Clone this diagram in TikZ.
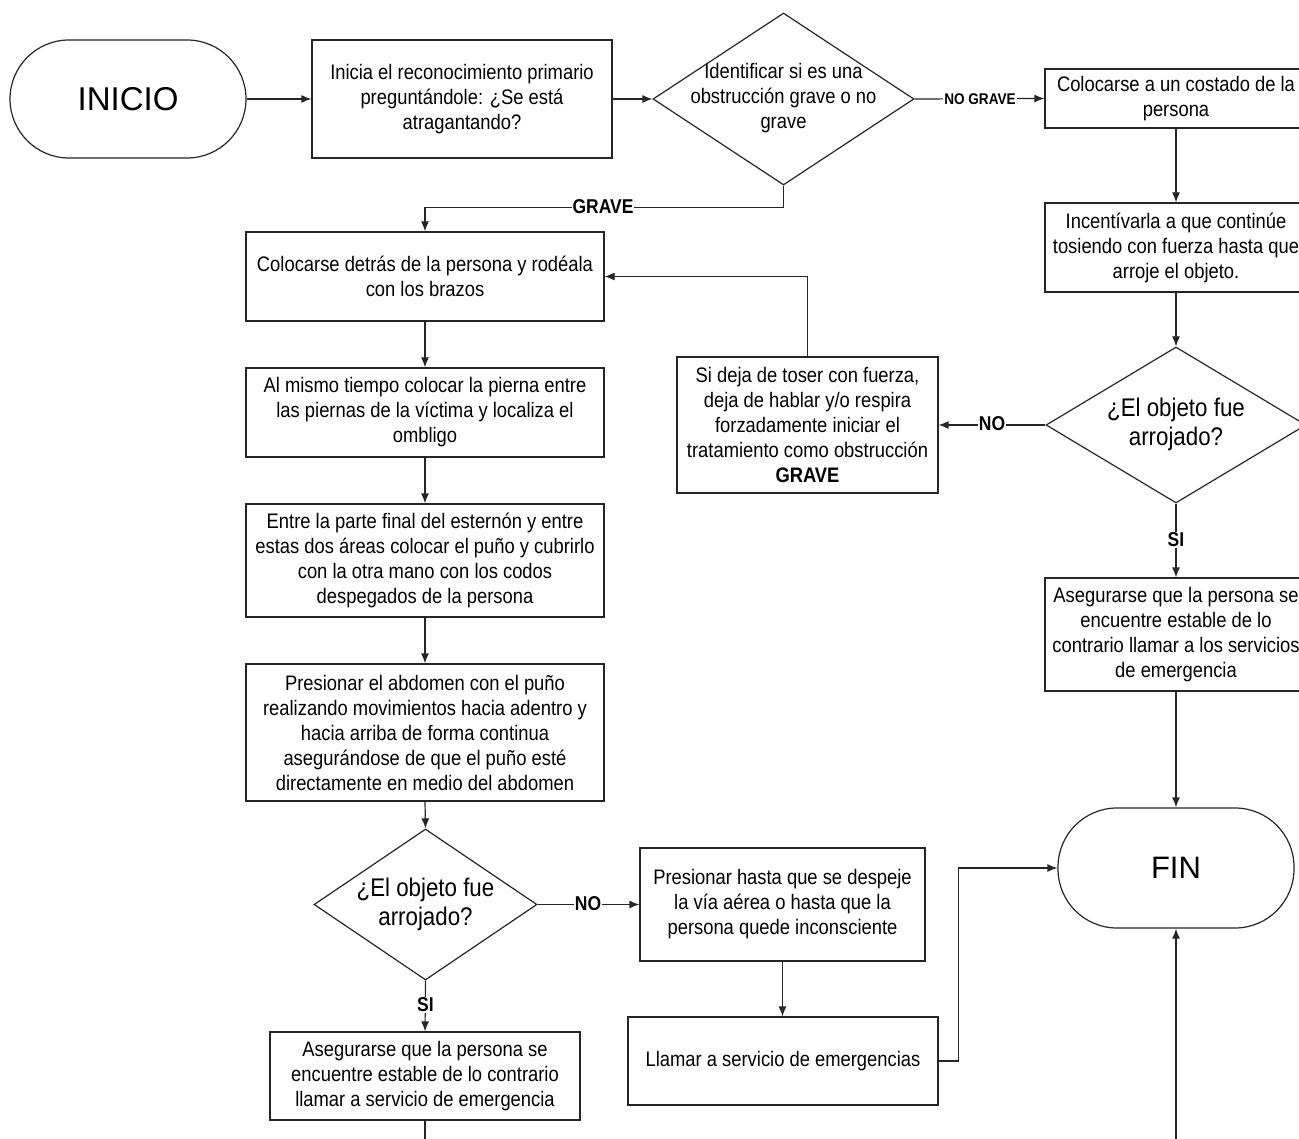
\documentclass[tikz,border=0pt]{standalone}
\usepackage{fontspec}
\newfontfamily\narrowfont{Liberation Sans}[FakeStretch=0.875]
\newfontfamily\wideface{Liberation Sans}
\usetikzlibrary{shapes.geometric,arrows.meta}

\tikzset{
  ln/.style={draw=black!85, line width=1.2pt},
  arr/.style={ln, -{Latex[length=10pt,width=8pt]}},
  box/.style={ln, rectangle, inner sep=0pt, align=center,
    font={\fontsize{21}{25}\selectfont\narrowfont}},
  term/.style={ln, rectangle, rounded corners=59pt, inner sep=0pt,
    minimum width=236pt, font={\fontsize{33}{38}\selectfont\wideface}},
  dec/.style={ln, diamond, inner sep=0pt},
  dectxt/.style={align=center, inner sep=0pt,
    font={\fontsize{21}{25}\selectfont\narrowfont}},
  bigtxt/.style={align=center, inner sep=0pt,
    font={\fontsize{25.5}{29}\selectfont\narrowfont}},
  lbl/.style={fill=white, inner sep=1pt,
    font={\fontsize{20}{24}\selectfont\narrowfont\bfseries}},
  smalllbl/.style={fill=white, inner sep=1pt,
    font={\fontsize{15.5}{18}\selectfont\narrowfont\bfseries}},
}

\begin{document}
\begin{tikzpicture}[x=1pt,y=-1pt]
\useasboundingbox (0,0) rectangle (1299,1139);
\fill[white] (0,0) rectangle (1299,1139);
\clip (0,0) rectangle (1299,1139);

% top row
\node[term, minimum height=118pt] (start) at (128,99) {INICIO};
\node[box, minimum width=300pt, minimum height=118pt] (b1) at (462,99)
  {Inicia el reconocimiento primario\\preguntándole: ¿Se está\\atragantando?};
\node[dec, minimum width=261pt, minimum height=172pt] (d1) at (783.5,99) {};
\node[dectxt] (d1t) at (783.5,98.5) {Identificar si es una\\obstrucción grave o no\\grave};

% right column (no grave)
\node[box, minimum width=262pt, minimum height=59pt] (ng1) at (1176,98.5)
  {Colocarse a un costado de la\\persona};
\node[box, minimum width=262pt, minimum height=89pt] (ng2) at (1176,247.5)
  {Incentívarla a que continúe\\tosiendo con fuerza hasta que\\arroje el objeto.};
\node[dec, minimum width=260pt, minimum height=156pt] (d2) at (1176,425) {};
\node[bigtxt] (d2t) at (1176,424) {¿El objeto fue\\arrojado?};
\node[box, minimum width=261pt, minimum height=136pt] (s) at (807.5,425)
  {Si deja de toser con fuerza,\\deja de hablar y/o respira\\forzadamente iniciar el\\tratamiento como obstrucción\\\textbf{GRAVE}};
\node[box, minimum width=262pt, minimum height=113pt] (a2) at (1176,634.5)
  {Asegurarse que la persona se\\encuentre estable de lo\\contrario llamar a los servicios\\de emergencia};
\node[term, minimum height=120pt, font={\fontsize{31}{36}\selectfont\wideface}] (fin) at (1176,868) {FIN};

% left column (grave)
\node[box, minimum width=358pt, minimum height=89pt] (c1) at (425,276.5)
  {Colocarse detrás de la persona y rodéala\\con los brazos};
\node[box, minimum width=358pt, minimum height=89pt] (c2) at (425,412.5)
  {Al mismo tiempo colocar la pierna entre\\las piernas de la víctima y localiza el\\ombligo};
\node[box, minimum width=358pt, minimum height=113pt] (c3) at (425,560.5)
  {Entre la parte final del esternón y entre\\estas dos áreas colocar el puño y cubrirlo\\con la otra mano con los codos\\despegados de la persona};
\node[box, minimum width=358pt, minimum height=137pt] (c4) at (425,732.5)
  {Presionar el abdomen con el puño\\realizando movimientos hacia adentro y\\hacia arriba de forma continua\\asegurándose de que el puño esté\\directamente en medio del abdomen};
\node[dec, minimum width=223pt, minimum height=151pt] (d3) at (425.5,904.5) {};
\node[bigtxt] (d3t) at (425.5,904) {¿El objeto fue\\arrojado?};
\node[box, minimum width=285pt, minimum height=113pt] (p) at (782.5,904.5)
  {Presionar hasta que se despeje\\la vía aérea o hasta que la\\persona quede inconsciente};
\node[box, minimum width=310pt, minimum height=88pt] (l) at (783,1061)
  {Llamar a servicio de emergencias};
\node[box, minimum width=310pt, minimum height=88pt] (a3) at (425,1076)
  {Asegurarse que la persona se\\encuentre estable de lo contrario\\llamar a servicio de emergencia};

\coordinate (finin) at (1176,1150);
\coordinate (a3out) at (425,1150);

% connectors
\draw[arr] (start.east) -- (b1.west);
\draw[arr] (b1.east) -- (d1.west);
\draw[arr] (d1.east) -- (ng1.west);
\node[smalllbl] (lng) at (980,99) {NO GRAVE};
\draw[arr] (d1.south) -- ++(0,22) -| (c1.north);
\node[lbl] (lg) at (603,207) {GRAVE};
\draw[arr] (ng1.south) -- (ng2.north);
\draw[arr] (ng2.south) -- (d2.north);
\draw[arr] (d2.west) -- (s.east);
\node[lbl] (lno1) at (992,424) {NO};
\draw[arr] (s.north) |- (c1.east);
\draw[arr] (d2.south) -- (a2.north);
\node[lbl] (lsi1) at (1176,540) {SI};
\draw[arr] (a2.south) -- (fin.north);
\draw[arr] (finin) -- (fin.south);
\draw[arr] (c1.south) -- (c2.north);
\draw[arr] (c2.south) -- (c3.north);
\draw[arr] (c3.south) -- (c4.north);
\draw[arr] (c4.south) -- (d3.north);
\draw[arr] (d3.east) -- (p.west);
\node[lbl] (lno2) at (588,904) {NO};
\draw[arr] (p.south) -- (p.south |- l.north);
\draw[arr] (l.east) -- ++(20,0) |- (fin.west);
\draw[arr] (d3.south) -- (a3.north);
\node[lbl] (lsi2) at (425.5,1005) {SI};
\draw[ln] (a3.south) -- (a3out);
\end{tikzpicture}
\end{document}
